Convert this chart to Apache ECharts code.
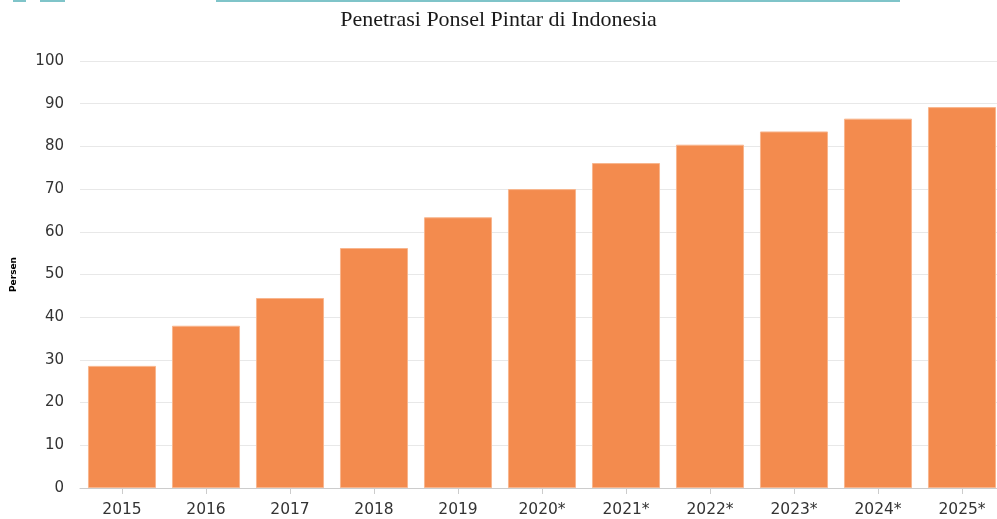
<!DOCTYPE html>
<html><head><meta charset="utf-8">
<script src="https://cdn.jsdelivr.net/npm/echarts@6/dist/echarts.min.js"></script>
<style>html,body{margin:0;padding:0;background:#fff}#c{width:997px;height:519px}</style>
</head><body><div id="c"></div>
<script>
var categories = ['2015','2016','2017','2018','2019','2020*','2021*','2022*','2023*','2024*','2025*'];
var values = [28.6, 38.0, 44.5, 56.2, 63.4, 70.0, 76.1, 80.4, 83.5, 86.5, 89.2];
var chart = echarts.init(document.getElementById('c'));
chart.setOption({
  animation: false,
  backgroundColor: '#fff',
  title: {
    text: 'Penetrasi Ponsel Pintar di Indonesia',
    left: 'center', top: 4,
    textStyle: {fontFamily: 'Liberation Serif', fontWeight: 'normal', fontSize: 22, color: '#1a1a1a'}
  },
  graphic: [
    {type:'rect', shape:{x:13,y:0,width:13,height:2}, style:{fill:'#7fc4c9'}},
    {type:'rect', shape:{x:40,y:0,width:25,height:2}, style:{fill:'#7fc4c9'}},
    {type:'rect', shape:{x:216,y:0,width:684,height:2}, style:{fill:'#7fc4c9'}}
  ],
  grid: {left: 80, width: 924, top: 61, bottom: 31, containLabel: false, outerBoundsMode: 'none'},
  xAxis: {
    type: 'category', data: categories,
    axisLine: {lineStyle: {color: '#ccc'}},
    axisTick: {show: true, alignWithLabel: true, length: 6, lineStyle: {color: '#ccc'}},
    axisLabel: {fontFamily: 'DejaVu Sans', fontSize: 15.5, color: '#333', margin: 14}
  },
  yAxis: {
    type: 'value', min: 0, max: 100, interval: 10,
    name: 'Persen', nameLocation: 'middle', nameGap: 62, nameRotate: 90,
    nameTextStyle: {fontFamily: 'DejaVu Sans', fontWeight: 'bold', fontSize: 9, color: '#000'},
    axisLine: {show: false}, axisTick: {show: false},
    axisLabel: {fontFamily: 'DejaVu Sans', fontSize: 15, color: '#333', margin: 16},
    splitLine: {lineStyle: {color: '#e8e8e8'}}
  },
  series: [{
    type: 'bar', data: values, barCategoryGap: '19%',
    itemStyle: {color: '#f38b4e', borderColor: '#f8b58d', borderWidth: 1}
  }]
});
</script></body></html>
